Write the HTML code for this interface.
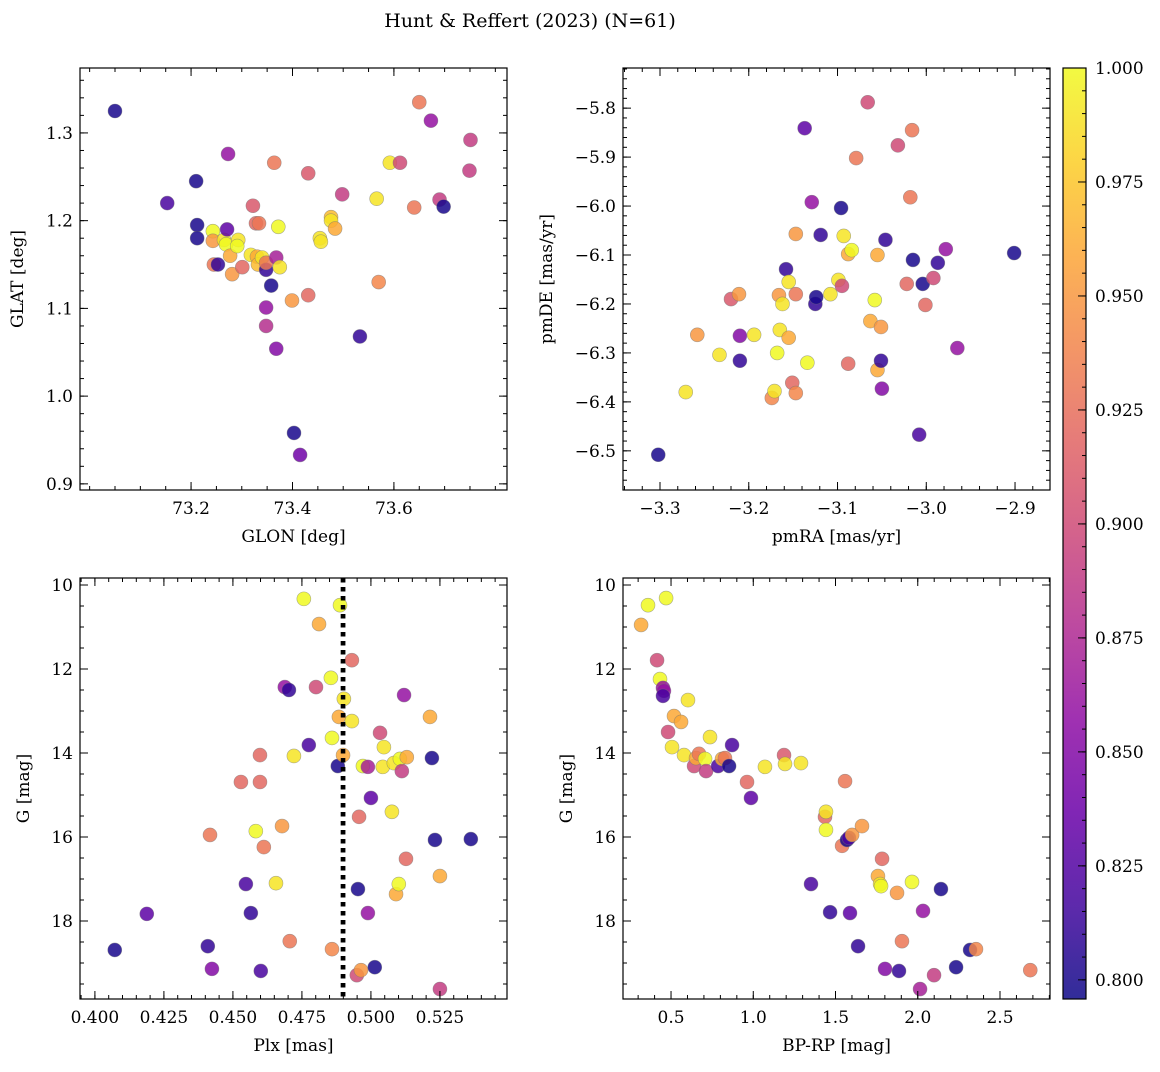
<!DOCTYPE html>
<html><head><meta charset="utf-8">
<style>
body{margin:0;background:#fff;}
svg text{font-family:"DejaVu Serif","Liberation Serif",serif;fill:#000;}
</style></head>
<body>
<svg id="fig" width="1160" height="1067" viewBox="0 0 1160 1067" xmlns="http://www.w3.org/2000/svg">
<rect width="1160" height="1067" fill="#fff"/>
<text x="530" y="27" font-size="19" text-anchor="middle">Hunt &amp; Reffert (2023) (N=61)</text>
</svg>
<script>
// ---- Panel 1: GLON vs GLAT ----
const glonA=[73.050,73.153,73.210,73.212,73.212,73.243,73.245,73.253,73.243,73.265,73.273,73.271,73.269,73.277,73.281,73.293,73.291,73.301,73.318,73.322,73.328,73.334,73.330,73.332,73.340,73.348,73.348,73.358,73.348,73.348,73.364,73.368,73.372,73.375,73.368,73.399,73.403,73.415,73.431,73.431,73.454,73.456,73.476,73.476,73.484,73.498,73.533,73.566,73.570,73.592,73.612,73.640,73.650,73.673,73.690,73.698,73.751,73.749];
const glatA=[1.325,1.220,1.245,1.195,1.180,1.188,1.150,1.150,1.177,1.178,1.276,1.190,1.173,1.160,1.139,1.178,1.171,1.147,1.161,1.217,1.197,1.197,1.159,1.150,1.158,1.144,1.152,1.126,1.101,1.080,1.266,1.158,1.193,1.147,1.054,1.109,0.958,0.933,1.254,1.115,1.180,1.176,1.204,1.200,1.191,1.230,1.068,1.225,1.130,1.266,1.266,1.215,1.335,1.314,1.224,1.216,1.292,1.257];
const probA=[0.80,0.82,0.80,0.80,0.80,1.0,0.93,0.81,0.95,0.99,0.86,0.83,1.0,0.96,0.95,0.99,1.0,0.92,0.99,0.91,0.92,0.93,0.96,0.97,0.99,0.81,0.93,0.80,0.86,0.88,0.93,0.87,1.0,0.99,0.85,0.95,0.80,0.84,0.91,0.92,0.99,0.99,0.97,0.99,0.96,0.89,0.81,0.99,0.94,0.99,0.90,0.93,0.93,0.86,0.89,0.80,0.89,0.89];
// ---- Panel 2: pmRA vs pmDE ----
const pmraB=[-3.302,-3.271,-3.258,-3.233,-3.220,-3.211,-3.210,-3.210,-3.194,-3.174,-3.171,-3.168,-3.166,-3.165,-3.162,-3.158,-3.155,-3.155,-3.151,-3.147,-3.147,-3.147,-3.137,-3.134,-3.129,-3.125,-3.124,-3.119,-3.108,-3.099,-3.096,-3.095,-3.093,-3.088,-3.084,-3.088,-3.079,-3.066,-3.063,-3.058,-3.055,-3.055,-3.051,-3.051,-3.050,-3.046,-3.032,-3.022,-3.018,-3.016,-3.015,-3.008,-3.004,-3.001,-2.992,-2.987,-2.978,-2.965,-2.901];
const pmdeB=[-6.508,-6.380,-6.263,-6.304,-6.190,-6.180,-6.265,-6.316,-6.263,-6.392,-6.378,-6.300,-6.182,-6.253,-6.200,-6.129,-6.155,-6.269,-6.361,-6.382,-6.180,-6.057,-5.841,-6.320,-5.992,-6.200,-6.186,-6.059,-6.180,-6.151,-6.004,-6.163,-6.061,-6.098,-6.090,-6.322,-5.902,-5.788,-6.235,-6.192,-6.100,-6.335,-6.316,-6.247,-6.373,-6.069,-5.876,-6.159,-5.982,-5.845,-6.110,-6.467,-6.159,-6.202,-6.147,-6.116,-6.088,-6.290,-6.096];
const probB=[0.80,0.99,0.95,0.99,0.91,0.95,0.85,0.81,0.99,0.94,0.99,1.0,0.95,0.99,0.99,0.81,0.99,0.96,0.92,0.94,0.93,0.95,0.83,1.0,0.86,0.81,0.80,0.81,0.99,0.99,0.80,0.90,0.99,0.96,1.0,0.92,0.93,0.90,0.96,1.0,0.96,0.96,0.81,0.95,0.85,0.81,0.90,0.92,0.93,0.93,0.80,0.82,0.80,0.92,0.90,0.81,0.86,0.86,0.80];
// ---- Panel 3: Plx vs G ----
const plxC=[0.4072,0.4188,0.4409,0.4417,0.4424,0.4529,0.4547,0.4565,0.4583,0.4598,0.4598,0.4601,0.4612,0.4656,0.4678,0.4688,0.4703,0.4706,0.4721,0.4757,0.4775,0.4801,0.4812,0.4855,0.4859,0.4859,0.4880,0.4888,0.4884,0.4899,0.4902,0.4931,0.4931,0.4953,0.4957,0.4949,0.4964,0.4971,0.4989,0.4989,0.5000,0.5014,0.5033,0.5043,0.5047,0.5076,0.5083,0.5091,0.5101,0.5105,0.5112,0.5120,0.5127,0.5130,0.5214,0.5221,0.5232,0.5250,0.5250,0.5362];
const gC=[18.69,17.83,18.60,15.95,19.14,14.69,17.12,17.81,15.86,14.05,14.69,19.19,16.24,17.10,15.74,12.43,12.50,18.48,14.07,10.33,13.81,12.43,10.93,12.21,13.64,18.67,14.31,10.48,13.14,14.05,12.71,11.79,13.24,17.24,15.52,19.29,19.17,14.31,14.33,17.81,15.07,19.10,13.52,14.33,13.86,15.40,14.24,17.36,17.12,14.14,14.43,12.62,16.52,14.10,13.14,14.12,16.07,16.93,19.62,16.05];
const probC=[0.80,0.83,0.81,0.93,0.85,0.92,0.82,0.81,1.0,0.92,0.92,0.82,0.93,0.99,0.95,0.86,0.81,0.93,0.99,1.0,0.82,0.90,0.96,1.0,1.0,0.94,0.80,1.0,0.96,0.96,0.99,0.92,0.99,0.80,0.92,0.90,0.95,1.0,0.87,0.86,0.83,0.80,0.90,0.99,0.99,0.99,0.99,0.96,1.0,1.0,0.89,0.86,0.92,0.96,0.96,0.80,0.80,0.96,0.89,0.80];
const plxLine=0.4899;
// ---- Panel 4: BP-RP vs G ----
const bprpD=[0.318,0.360,0.470,0.415,0.433,0.451,0.457,0.451,0.482,0.518,0.561,0.506,0.603,0.579,0.640,0.652,0.670,0.707,0.713,0.737,0.786,0.810,0.828,0.853,0.871,0.962,0.986,1.071,1.187,1.193,1.290,1.351,1.436,1.442,1.442,1.467,1.558,1.540,1.570,1.582,1.588,1.601,1.637,1.661,1.758,1.771,1.777,1.783,1.801,1.874,1.886,1.904,1.965,2.014,2.032,2.099,2.141,2.233,2.318,2.354,2.684];
const gD=[10.95,10.48,10.31,11.79,12.24,12.45,12.52,12.64,13.50,13.12,13.26,13.86,12.74,14.05,14.31,14.12,14.02,14.14,14.43,13.62,14.31,14.14,14.12,14.31,13.81,14.69,15.07,14.33,14.05,14.26,14.24,17.12,15.52,15.40,15.83,17.79,14.67,16.21,16.07,16.02,17.81,15.95,18.60,15.74,16.93,17.12,17.17,16.52,19.14,17.33,19.19,18.48,17.07,19.62,17.76,19.29,17.24,19.10,18.69,18.67,19.17];
const probD=[0.96,1.0,1.0,0.90,1.0,0.86,0.86,0.82,0.90,0.96,0.96,0.99,0.99,0.99,0.90,0.96,0.93,1.0,0.89,0.99,0.82,0.96,0.93,0.80,0.82,0.92,0.83,0.99,0.91,0.99,0.99,0.82,0.92,0.99,1.0,0.81,0.93,0.93,0.80,0.82,0.83,0.95,0.81,0.95,0.96,0.99,1.0,0.92,0.85,0.95,0.81,0.93,1.0,0.87,0.86,0.89,0.80,0.80,0.80,0.94,0.93];
// ---- Tick labels ----
const ticksA_x=[73.2,73.4,73.6], labA_x=["73.2","73.4","73.6"];
const ticksA_y=[0.9,1.0,1.1,1.2,1.3], labA_y=["0.9","1.0","1.1","1.2","1.3"];
const ticksB_x=[-3.3,-3.2,-3.1,-3.0,-2.9], labB_x=["−3.3","−3.2","−3.1","−3.0","−2.9"];
const ticksB_y=[-6.5,-6.4,-6.3,-6.2,-6.1,-6.0,-5.9,-5.8], labB_y=["−6.5","−6.4","−6.3","−6.2","−6.1","−6.0","−5.9","−5.8"];
const ticksC_x=[0.400,0.425,0.450,0.475,0.500,0.525], labC_x=["0.400","0.425","0.450","0.475","0.500","0.525"];
const ticksG=[10,12,14,16,18], labG=["10","12","14","16","18"];
const ticksD_x=[0.5,1.0,1.5,2.0,2.5], labD_x=["0.5","1.0","1.5","2.0","2.5"];
const ticksCb=[0.800,0.825,0.850,0.875,0.900,0.925,0.950,0.975,1.000], labCb=["0.800","0.825","0.850","0.875","0.900","0.925","0.950","0.975","1.000"];

const NS="http://www.w3.org/2000/svg";
const svg=document.getElementById('fig');
const VMIN=0.7958, VMAX=1.0;
const plasma=["#0d0887","#41049d","#6a00a8","#8f0da4","#b12a90","#cc4778","#e16462","#f2844b","#fca636","#fcce25","#f0f921"];
function hex(h){return [1,3,5].map(i=>parseInt(h.substr(i,2),16));}
function cmap(v){let t=(v-VMIN)/(VMAX-VMIN);t=Math.max(0,Math.min(1,t));const f=t*10,i=Math.min(9,Math.floor(f)),r=f-i;const a=hex(plasma[i]),b=hex(plasma[i+1]);return `rgb(${a.map((c,k)=>Math.round(c+(b[k]-c)*r)).join(',')})`;}
function mk(tag,attrs,parent){const e=document.createElementNS(NS,tag);for(const k in attrs)e.setAttribute(k,attrs[k]);(parent||svg).appendChild(e);return e;}

function panel(o){
  const g=mk('g',{});
  
  
  const sx=v=>o.x0+(v-o.xmin)/(o.xmax-o.xmin)*(o.x1-o.x0);
  const sy=v=>o.y0+(v-o.ytop)/(o.ybot-o.ytop)*(o.y1-o.y0);
  if(o.vline!==undefined){const l=mk('line',{x1:sx(o.vline),x2:sx(o.vline),y1:o.y0,y2:o.y1,stroke:'#000','stroke-width':4.5,'stroke-dasharray':'4.5,4.5'},g);
    
    }
  for(let i=0;i<o.xs.length;i++){
    const c=mk('circle',{cx:sx(o.xs[i]),cy:sy(o.ys[i]),r:7,fill:cmap(o.cs[i]),'fill-opacity':0.85,stroke:'#777','stroke-opacity':0.6,'stroke-width':0.6},g);
    
    
  }
  if(o.vline!==undefined){mk('line',{x1:sx(o.vline),x2:sx(o.vline),y1:o.y0,y2:o.y1,stroke:'#000','stroke-width':4.5,'stroke-dasharray':'4.5,4.5'},g);}
  const fr=mk('rect',{x:o.x0,y:o.y0,width:o.x1-o.x0,height:o.y1-o.y0,fill:'none',stroke:'#000','stroke-width':1.2},g);
  
  
  const st={stroke:'#000','stroke-width':1};
  // minor ticks
  const xm0=Math.ceil(Math.min(o.xmin,o.xmax)/o.xmin_step-1e-6);
  for(let k=xm0;k*o.xmin_step<=o.xmax+1e-9;k++){const x=sx(k*o.xmin_step);if(x<o.x0||x>o.x1)continue;
    mk('line',Object.assign({x1:x,x2:x,y1:o.y1,y2:o.y1-4},st),g);mk('line',Object.assign({x1:x,x2:x,y1:o.y0,y2:o.y0+4},st),g);}
  const lo=Math.min(o.ytop,o.ybot),hi=Math.max(o.ytop,o.ybot);
  for(let k=Math.ceil(lo/o.ymin_step-1e-6);k*o.ymin_step<=hi+1e-9;k++){const y=sy(k*o.ymin_step);if(y<o.y0||y>o.y1)continue;
    mk('line',Object.assign({x1:o.x0,x2:o.x0+4,y1:y,y2:y},st),g);mk('line',Object.assign({x1:o.x1,x2:o.x1-4,y1:y,y2:y},st),g);}
  o.xt.forEach((v,i)=>{const x=sx(v);
    mk('line',Object.assign({x1:x,x2:x,y1:o.y1,y2:o.y1-8},st),g);mk('line',Object.assign({x1:x,x2:x,y1:o.y0,y2:o.y0+8},st),g);
    const t=mk('text',{x:x,y:o.y1+24,'font-size':17,'text-anchor':'middle'},g);t.textContent=o.xl[i];
    
    });
  o.yt.forEach((v,i)=>{const y=sy(v);
    mk('line',Object.assign({x1:o.x0,x2:o.x0+8,y1:y,y2:y},st),g);mk('line',Object.assign({x1:o.x1,x2:o.x1-8,y1:y,y2:y},st),g);
    const t=mk('text',{x:o.x0-7,y:y+6,'font-size':17,'text-anchor':'end'},g);t.textContent=o.yl[i];
    
    });
  const xt=mk('text',{x:(o.x0+o.x1)/2,y:o.y1+52,'font-size':17,'text-anchor':'middle'},g);xt.textContent=o.xtitle;
  
  
  const cy=(o.y0+o.y1)/2;
  const yt=mk('text',{x:o.ytx,y:cy,'font-size':17,'text-anchor':'middle',transform:`rotate(-90 ${o.ytx} ${cy})`},g);yt.textContent=o.ytitle;
  
  
}
panel({name:'glon-glat-panel',x0:80,x1:507,y0:68,y1:490,xmin:72.981,xmax:73.823,ytop:1.374,ybot:0.893,xs:glonA,ys:glatA,cs:probA,xt:ticksA_x,xl:labA_x,yt:ticksA_y,yl:labA_y,xmin_step:0.05,ymin_step:0.02,xtitle:'GLON [deg]',ytitle:'GLAT [deg]',ytx:23});
panel({name:'proper-motion-panel',x0:623,x1:1050,y0:68,y1:490,xmin:-3.3417,xmax:-2.8606,ytop:-5.718,ybot:-6.580,xs:pmraB,ys:pmdeB,cs:probB,xt:ticksB_x,xl:labB_x,yt:ticksB_y,yl:labB_y,xmin_step:0.02,ymin_step:0.02,xtitle:'pmRA [mas/yr]',ytitle:'pmDE [mas/yr]',ytx:552});
panel({name:'parallax-mag-panel',x0:80,x1:507,y0:578,y1:999,xmin:0.3946,xmax:0.5493,ytop:9.833,ybot:19.857,xs:plxC,ys:gC,cs:probC,xt:ticksC_x,xl:labC_x,yt:ticksG,yl:labG,xmin_step:0.005,ymin_step:0.5,xtitle:'Plx [mas]',ytitle:'G [mag]',ytx:29,vline:plxLine});
panel({name:'cmd-panel',x0:623,x1:1050,y0:578,y1:999,xmin:0.208,xmax:2.804,ytop:9.833,ybot:19.857,xs:bprpD,ys:gD,cs:probD,xt:ticksD_x,xl:labD_x,yt:ticksG,yl:labG,xmin_step:0.1,ymin_step:0.5,xtitle:'BP-RP [mag]',ytitle:'G [mag]',ytx:572});

// colorbar
(function(){
  const g=mk('g',{});
  
  
  const defs=mk('defs',{},g);const lg=mk('linearGradient',{id:'pl',x1:0,y1:1,x2:0,y2:0},defs);
  plasma.forEach((c,i)=>mk('stop',{offset:i/10,'stop-color':c},lg));
  const x0=1063,x1=1086,y0=68,y1=999;
  mk('rect',{x:x0,y:y0,width:x1-x0,height:y1-y0,fill:'url(#pl)','fill-opacity':0.85,stroke:'#000','stroke-width':1.2},g);
  const sy=v=>y1-(v-VMIN)/(VMAX-VMIN)*(y1-y0);
  for(let k=Math.ceil(VMIN/0.005);k*0.005<=VMAX+1e-9;k++){const y=sy(k*0.005);mk('line',{x1:x1,x2:x1-4,y1:y,y2:y,stroke:'#000'},g);}
  ticksCb.forEach((v,i)=>{const y=sy(v);mk('line',{x1:x1,x2:x1-8,y1:y,y2:y,stroke:'#000'},g);
    const t=mk('text',{x:x1+9,y:y+6,'font-size':17},g);t.textContent=labCb[i];
    
    });
})();
</script>
</body></html>
